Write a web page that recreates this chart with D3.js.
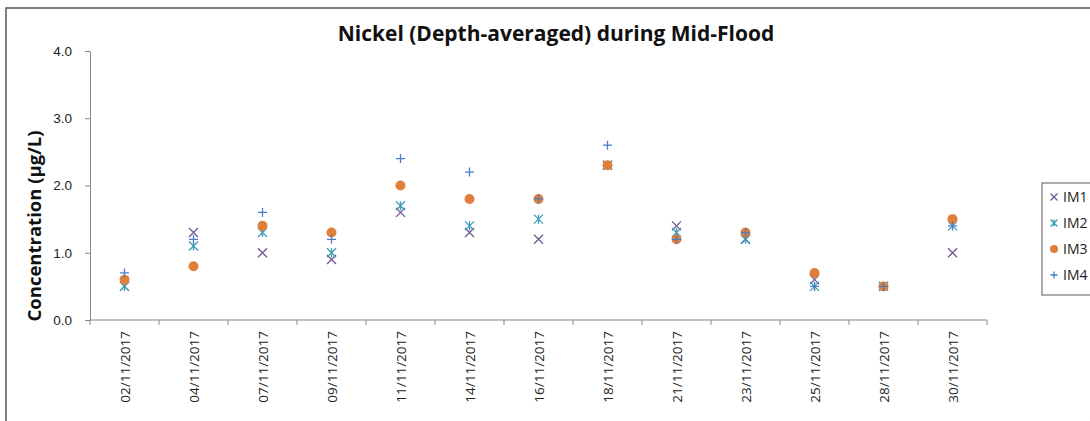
<!DOCTYPE html>
<html>
<head>
	<title>Nickel Mid-Flood</title>
	<style type="text/css">
		body { margin: 0; background: #fff; }
		svg { font-family: "Open Sans", Lato, sans-serif; }
		.axis path, .axis line { stroke: #868686; }
		.axis text { fill: #222; font-size: 13.5px; }
		.xlab { font-size: 14px; }
	</style>
</head>
<body>
	<div id="chart"></div>
	<script src="https://d3js.org/d3.v7.min.js"></script>
	<script type="text/javascript">
		// values
		var dates = ["02/11/2017", "04/11/2017", "07/11/2017", "09/11/2017", "11/11/2017", "14/11/2017",
			"16/11/2017", "18/11/2017", "21/11/2017", "23/11/2017", "25/11/2017", "28/11/2017", "30/11/2017"];
		var im1 = [0.5, 1.3, 1.0, 0.9, 1.6, 1.3, 1.2, 2.3, 1.4, 1.2, 0.6, 0.5, 1.0];
		var im2 = [0.5, 1.1, 1.3, 1.0, 1.7, 1.4, 1.5, 2.3, 1.3, 1.2, 0.5, 0.5, 1.4];
		var im3 = [0.6, 0.8, 1.4, 1.3, 2.0, 1.8, 1.8, 2.3, 1.2, 1.3, 0.7, 0.5, 1.5];
		var im4 = [0.7, 1.2, 1.6, 1.2, 2.4, 2.2, 1.8, 2.6, 1.2, 1.3, 0.5, 0.5, 1.4];
		var yTicks = [0, 1, 2, 3, 4];

		var series = [
			{ name: "IM1", values: im1, color: "#6f5594", shape: "x" },
			{ name: "IM2", values: im2, color: "#3e9db5", shape: "star" },
			{ name: "IM3", values: im3, color: "#e07f3a", shape: "dot" },
			{ name: "IM4", values: im4, color: "#4a7fc6", shape: "plus" }
		];

		var width = 1090, height = 421;
		var plotLeft = 90, plotRight = 987, plotTop = 51, plotBottom = 320;

		var svg = d3.select("#chart").append("svg")
			.attr("width", width)
			.attr("height", height);

		// outer chart frame
		svg.append("rect")
			.attr("x", 6).attr("y", 8)
			.attr("width", 1100).attr("height", 430)
			.attr("fill", "none")
			.attr("stroke", "#595959")
			.attr("stroke-width", 1.5);

		var x = d3.scaleBand().domain(dates).range([plotLeft, plotRight]);
		var y = d3.scaleLinear().domain([0, 4]).range([plotBottom, plotTop]);

		// y axis
		svg.append("g")
			.attr("class", "axis")
			.attr("transform", "translate(" + plotLeft + ",0)")
			.call(d3.axisLeft(y).tickValues(yTicks).tickFormat(d3.format(".1f")).tickSize(5).tickPadding(13).tickSizeOuter(0));

		// x axis with ticks at category boundaries
		var xg = svg.append("g")
			.attr("class", "axis")
			.attr("transform", "translate(0," + plotBottom + ")");
		xg.append("line").attr("x1", plotLeft).attr("x2", plotRight).attr("stroke", "#868686");
		xg.selectAll("line.tk")
			.data(d3.range(dates.length + 1))
			.enter().append("line")
			.attr("class", "tk")
			.attr("x1", function(i) { return plotLeft + i * x.step(); })
			.attr("x2", function(i) { return plotLeft + i * x.step(); })
			.attr("y1", 0).attr("y2", 5);
		xg.selectAll("text")
			.data(dates)
			.enter().append("text")
			.attr("class", "xlab")
			.attr("transform", function(d) { return "translate(" + (x(d) + x.bandwidth() / 2 + 5) + ",11) rotate(-90)"; })
			.attr("text-anchor", "end")
			.text(function(d) { return d; });

		// title
		svg.append("text")
			.attr("x", 556).attr("y", 41)
			.attr("text-anchor", "middle")
			.attr("font-size", "21px")
			.attr("font-weight", "bold")
			.attr("fill", "#111")
			.text("Nickel (Depth-averaged) during Mid-Flood");

		// y label
		svg.append("text")
			.attr("transform", "translate(41,226) rotate(-90)")
			.attr("text-anchor", "middle")
			.attr("font-size", "18.5px")
			.attr("font-weight", "bold")
			.attr("fill", "#111")
			.text("Concentration (µg/L)");

		function marker(g, shape, color, s) {
			if (shape === "x") {
				g.append("path").attr("d", "M" + -s + "," + -s + "L" + s + "," + s + "M" + -s + "," + s + "L" + s + "," + -s)
					.attr("stroke", color).attr("stroke-width", 1.3).attr("fill", "none");
			} else if (shape === "star") {
				g.append("path").attr("d", "M" + -s + "," + -s + "L" + s + "," + s + "M" + -s + "," + s + "L" + s + "," + -s + "M0," + -s + "L0," + s)
					.attr("stroke", color).attr("stroke-width", 1.3).attr("fill", "none");
			} else if (shape === "dot") {
				g.append("circle").attr("r", s + 0.5).attr("fill", color);
			} else {
				g.append("path").attr("d", "M" + -s + ",0L" + s + ",0M0," + -s + "L0," + s)
					.attr("stroke", color).attr("stroke-width", 1.3).attr("fill", "none");
			}
		}

		// points
		series.forEach(function(sr) {
			var g = svg.append("g");
			sr.values.forEach(function(v, i) {
				var p = g.append("g")
					.attr("transform", "translate(" + (x(dates[i]) + x.bandwidth() / 2) + "," + y(v) + ")");
				marker(p, sr.shape, sr.color, 4.5);
			});
		});

		// legend
		var lg = svg.append("g");
		lg.append("rect")
			.attr("x", 1042).attr("y", 183)
			.attr("width", 80).attr("height", 112)
			.attr("fill", "#fff").attr("stroke", "#595959");
		series.forEach(function(sr, i) {
			var cy = 197 + i * 26;
			var m = lg.append("g").attr("transform", "translate(1054," + cy + ")");
			marker(m, sr.shape, sr.color, 3.5);
			lg.append("text")
				.attr("x", 1063).attr("y", cy + 5)
				.attr("font-size", "14px")
				.attr("fill", "#222")
				.text(sr.name);
		});
	</script>
</body>
</html>
